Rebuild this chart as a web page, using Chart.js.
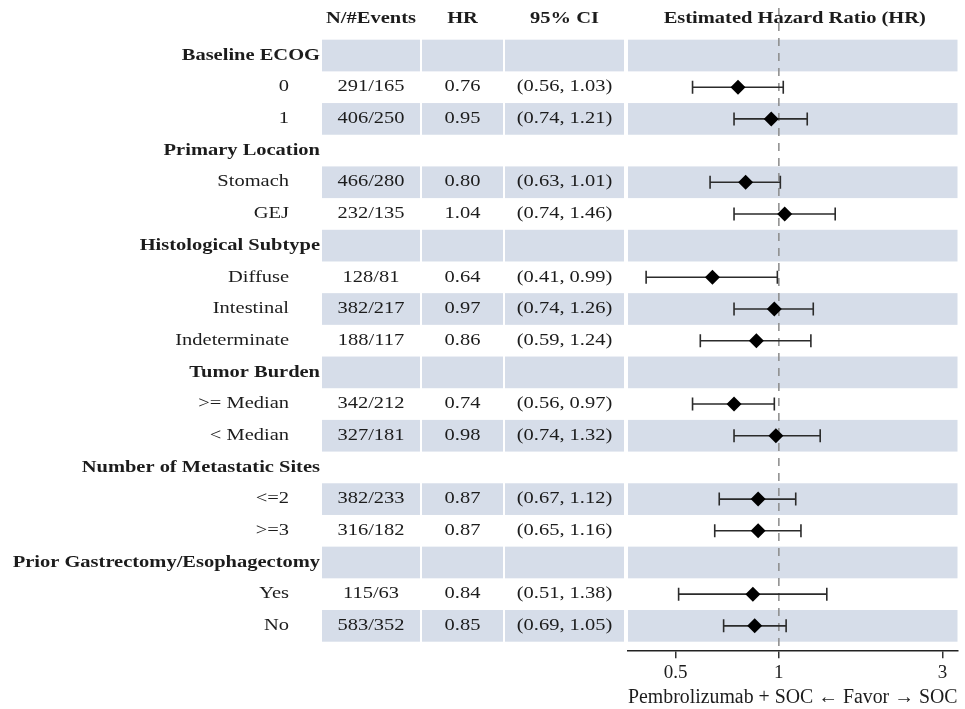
<!DOCTYPE html>
<html>
<head>
<meta charset="utf-8">
<script src="https://cdn.jsdelivr.net/npm/chart.js@4.4.1/dist/chart.umd.min.js"></script>
<style>
  html, body { margin: 0; padding: 0; background: #fff; }
  #wrap { width: 965px; height: 709px; }
</style>
</head>
<body>
<div id="wrap"><canvas id="forest"></canvas></div>
<script>
(function() {
  /* Rows of the table, top to bottom. Headers carry no estimate. */
  var rowLabels = [
    'Baseline ECOG', '0', '1',
    'Primary Location', 'Stomach', 'GEJ',
    'Histological Subtype', 'Diffuse', 'Intestinal', 'Indeterminate',
    'Tumor Burden', '>= Median', '< Median',
    'Number of Metastatic Sites', '<=2', '>=3',
    'Prior Gastrectomy/Esophagectomy', 'Yes', 'No'
  ];
  var isHeader = [
    true, false, false,
    true, false, false,
    true, false, false, false,
    true, false, false,
    true, false, false,
    true, false, false
  ];
  var nEvents = [
    '', '291/165', '406/250',
    '', '466/280', '232/135',
    '', '128/81', '382/217', '188/117',
    '', '342/212', '327/181',
    '', '382/233', '316/182',
    '', '115/63', '583/352'
  ];
  var hr = [
    null, 0.76, 0.95,
    null, 0.80, 1.04,
    null, 0.64, 0.97, 0.86,
    null, 0.74, 0.98,
    null, 0.87, 0.87,
    null, 0.84, 0.85
  ];
  var ciLow = [
    null, 0.56, 0.74,
    null, 0.63, 0.74,
    null, 0.41, 0.74, 0.59,
    null, 0.56, 0.74,
    null, 0.67, 0.65,
    null, 0.51, 0.69
  ];
  var ciHigh = [
    null, 1.03, 1.21,
    null, 1.01, 1.46,
    null, 0.99, 1.26, 1.24,
    null, 0.97, 1.32,
    null, 1.12, 1.16,
    null, 1.38, 1.05
  ];
  var columnHeaders = ['N/#Events', 'HR', '95% CI', 'Estimated Hazard Ratio (HR)'];
  var xTickValues = [0.5, 1, 3];
  var xTitle = 'Pembrolizumab + SOC \u2190 Favor \u2192 SOC';

  var serif = '"Liberation Serif", "Times New Roman", serif';
  var textColor = '#1c1c1c';
  var bandColor = '#d6dde9';
  var stretch = 1.28; /* the source text is drawn wide */

  /* Column layout (pixels) for the table part */
  var cols = {
    label: 289, headerLabel: 320,
    n: [322, 420], hr: [422, 503], ci: [505, 624]
  };

  var points = [];
  for (var i = 0; i < hr.length; i++) {
    if (hr[i] !== null) points.push({ x: hr[i], y: i, lo: ciLow[i], hi: ciHigh[i] });
  }

  function fmt(v) { return v.toFixed(2); }

  /* draw text stretched horizontally, aligned like textAlign would */
  function wideText(c, s, x, y, align) {
    var w = c.measureText(s).width * stretch;
    var x0 = align === 'right' ? x - w : (align === 'center' ? x - w / 2 : x);
    c.save();
    c.translate(x0, y);
    c.scale(stretch, 1);
    c.textAlign = 'left';
    c.fillText(s, 0, 0);
    c.restore();
  }

  var tablePlugin = {
    id: 'forestTable',
    beforeDatasetsDraw: function(chart) {
      var c = chart.ctx;
      var area = chart.chartArea;
      var xs = chart.scales.x;
      var ys = chart.scales.y;
      var rowH = Math.abs(ys.getPixelForValue(1) - ys.getPixelForValue(0));

      /* alternating bands */
      c.save();
      c.fillStyle = bandColor;
      for (var r = 0; r < rowLabels.length; r += 2) {
        var yc = ys.getPixelForValue(r);
        var top = yc - rowH / 2, h = rowH;
        c.fillRect(cols.n[0], top, cols.n[1] - cols.n[0], h);
        c.fillRect(cols.hr[0], top, cols.hr[1] - cols.hr[0], h);
        c.fillRect(cols.ci[0], top, cols.ci[1] - cols.ci[0], h);
        c.fillRect(area.left, top, area.right - area.left, h);
      }
      c.restore();

      /* reference line at HR = 1 */
      var x1 = xs.getPixelForValue(1);
      c.save();
      c.strokeStyle = '#8a8a8a';
      c.lineWidth = 1.5;
      c.setLineDash([8, 7]);
      c.beginPath();
      c.moveTo(x1, area.top);
      c.lineTo(x1, area.bottom);
      c.stroke();
      c.restore();

      /* confidence intervals */
      c.save();
      c.strokeStyle = '#2b2b2b';
      c.lineWidth = 1.6;
      points.forEach(function(p) {
        var y = ys.getPixelForValue(p.y);
        var a = xs.getPixelForValue(p.lo);
        var b = xs.getPixelForValue(p.hi);
        c.beginPath();
        c.moveTo(a, y); c.lineTo(b, y);
        c.moveTo(a, y - 6.5); c.lineTo(a, y + 6.5);
        c.moveTo(b, y - 6.5); c.lineTo(b, y + 6.5);
        c.stroke();
      });
      c.restore();
    },
    afterDraw: function(chart) {
      var c = chart.ctx;
      var area = chart.chartArea;
      var ys = chart.scales.y;
      c.save();
      c.fillStyle = textColor;
      c.textBaseline = 'middle';

      /* column headers */
      var hy = ys.getPixelForValue(-1.15);
      c.font = 'bold 16px ' + serif;
      wideText(c, columnHeaders[0], (cols.n[0] + cols.n[1]) / 2, hy, 'center');
      wideText(c, columnHeaders[1], (cols.hr[0] + cols.hr[1]) / 2, hy, 'center');
      wideText(c, columnHeaders[2], (cols.ci[0] + cols.ci[1]) / 2, hy, 'center');
      wideText(c, columnHeaders[3], (area.left + area.right) / 2 + 2, hy, 'center');

      for (var r = 0; r < rowLabels.length; r++) {
        var y = ys.getPixelForValue(r);
        if (isHeader[r]) {
          c.font = 'bold 16px ' + serif;
          wideText(c, rowLabels[r], cols.headerLabel, y, 'right');
          continue;
        }
        c.font = '16px ' + serif;
        wideText(c, rowLabels[r], cols.label, y, 'right');
        wideText(c, nEvents[r], (cols.n[0] + cols.n[1]) / 2, y, 'center');
        wideText(c, fmt(hr[r]), (cols.hr[0] + cols.hr[1]) / 2, y, 'center');
        wideText(c, '(' + fmt(ciLow[r]) + ', ' + fmt(ciHigh[r]) + ')', (cols.ci[0] + cols.ci[1]) / 2, y, 'center');
      }
      c.restore();
    }
  };

  new Chart(document.getElementById('forest'), {
    type: 'scatter',
    data: {
      datasets: [{
        label: 'HR',
        data: points,
        pointStyle: 'rectRot',
        pointRadius: 7.5,
        pointHoverRadius: 7.5,
        backgroundColor: '#000',
        borderColor: '#000',
        borderWidth: 0
      }]
    },
    options: {
      responsive: true,
      maintainAspectRatio: false,
      animation: false,
      layout: { padding: { top: 8, right: 7, bottom: 0, left: 628 } },
      plugins: {
        legend: { display: false },
        tooltip: { enabled: false },
        title: { display: false }
      },
      scales: {
        x: {
          type: 'logarithmic',
          min: 0.363,
          max: 3.32,
          afterBuildTicks: function(scale) {
            scale.ticks = xTickValues.map(function(v) { return { value: v }; });
          },
          grid: {
            display: true,
            drawOnChartArea: false,
            drawTicks: true,
            tickLength: 7,
            color: '#333',
            lineWidth: 1.5
          },
          border: { display: true, color: '#222', width: 1.6 },
          ticks: {
            autoSkip: false,
            maxRotation: 0,
            padding: 3,
            color: textColor,
            font: { size: 19, family: serif },
            callback: function(v) { return String(v); }
          },
          title: {
            display: true,
            text: xTitle,
            color: textColor,
            font: { size: 20, family: serif, lineHeight: 1.1 },
            padding: { top: 0, bottom: 0 }
          }
        },
        y: {
          type: 'linear',
          display: false,
          reverse: true,
          min: -1.5,
          max: 18.8
        }
      }
    },
    plugins: [tablePlugin]
  });
})();
</script>
</body>
</html>
